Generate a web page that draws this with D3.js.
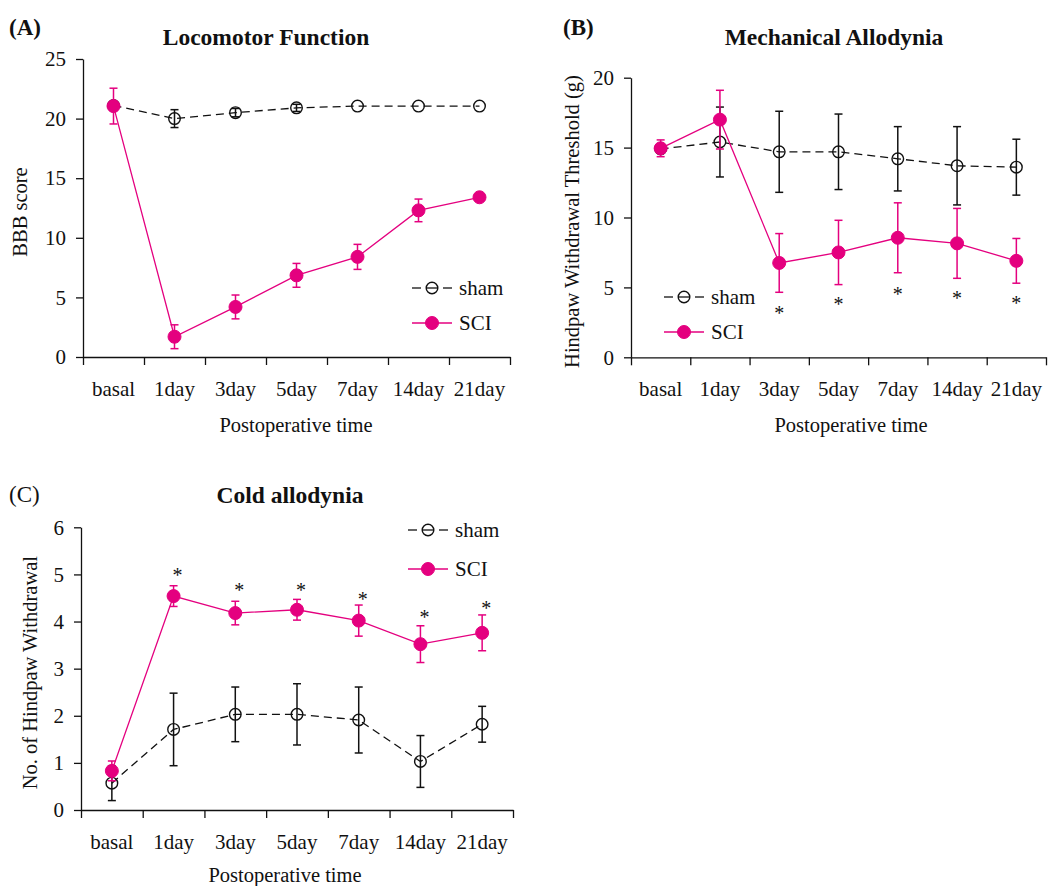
<!DOCTYPE html>
<html>
<head>
<meta charset="utf-8">
<script src="https://cdn.jsdelivr.net/npm/d3@7"></script>
<style>
body { margin: 0; background: #fff; }
text { font-family: "Liberation Serif", "Times New Roman", serif; fill: #111; }
</style>
</head>
<body>
<script>
// shared categories
const timepoints = ["basal", "1day", "3day", "5day", "7day", "14day", "21day"];

// (A) Locomotor Function - BBB score
const bbbSham = [21.1, 20.0, 20.5, 20.9, 21.05, 21.05, 21.05];
const bbbShamErr = [0, 0.75, 0.35, 0.3, 0, 0, 0];
const bbbSci = [21.05, 1.7, 4.2, 6.85, 8.4, 12.3, 13.4];
const bbbSciErr = [1.5, 1.0, 1.0, 1.0, 1.05, 0.95, 0.15];
const bbbStars = [null, null, null, null, null, null, null];

// (B) Mechanical Allodynia - withdrawal threshold (g)
const mechSham = [14.9, 15.4, 14.7, 14.7, 14.2, 13.7, 13.6];
const mechShamErr = [0.3, 2.5, 2.9, 2.7, 2.3, 2.8, 2.0];
const mechSci = [14.95, 17.0, 6.75, 7.5, 8.55, 8.15, 6.9];
const mechSciErr = [0.6, 2.1, 2.1, 2.3, 2.5, 2.5, 1.6];
const mechStars = [null, null, 3.4, 4.0, 4.75, 4.46, 4.1];

// (C) Cold allodynia - no. of hindpaw withdrawal
const coldSham = [0.57, 1.71, 2.03, 2.03, 1.91, 1.03, 1.82];
const coldShamErr = [0.37, 0.77, 0.58, 0.65, 0.7, 0.55, 0.38];
const coldSci = [0.83, 4.54, 4.18, 4.25, 4.02, 3.52, 3.76];
const coldSciErr = [0.21, 0.22, 0.25, 0.22, 0.33, 0.39, 0.38];
const coldStars = [null, 5.06, 4.74, 4.74, 4.54, 4.16, 4.35];

const pink = "#e4007f";
const black = "#111";

const svg = d3.select("body").append("svg")
    .attr("width", 1049)
    .attr("height", 886)
    .style("background", "#fff");

function drawPanel(p)
{
    const g = svg.append("g");
    const x = d3.scaleBand().domain(timepoints).range([p.left, p.right]);
    const xb = d3.scaleLinear().domain([0, timepoints.length]).range([p.left, p.right]);
    const y = d3.scaleLinear().domain([0, p.yMax]).range([p.bottom, p.top]);
    const cx = i => x(timepoints[i]) + x.bandwidth() / 2;

    // x axis: ticks at category boundaries
    g.append("g")
        .attr("transform", `translate(0,${p.bottom})`)
        .call(d3.axisBottom(xb).tickValues(d3.range(timepoints.length + 1)).tickSize(8).tickSizeOuter(0).tickFormat(""))
        .call(a => a.selectAll("path,line").attr("stroke", black).attr("stroke-width", 1.3));
    // category labels
    g.append("g")
        .attr("transform", `translate(0,${p.bottom})`)
        .call(d3.axisBottom(x).tickSize(0).tickPadding(24))
        .call(a => a.select(".domain").remove())
        .call(a => a.selectAll("text").attr("font-size", 21).attr("fill", black))
        .attr("font-family", null);

    // y axis
    g.append("g")
        .attr("transform", `translate(${p.left},0)`)
        .call(d3.axisLeft(y).ticks(p.yTicks).tickSize(7).tickPadding(10).tickSizeOuter(0))
        .call(a => a.selectAll("path,line").attr("stroke", black).attr("stroke-width", 1.3))
        .call(a => a.selectAll("text").attr("font-size", 21).attr("fill", black))
        .attr("font-family", null);

    // labels
    g.append("text")
        .attr("x", p.xLabelX).attr("y", p.xLabelY)
        .attr("text-anchor", "middle").attr("font-size", 20.5)
        .text("Postoperative time");
    g.append("text")
        .attr("transform", `translate(${p.yLabelX},${(p.top + p.bottom) / 2 + 4}) rotate(-90)`)
        .attr("text-anchor", "middle").attr("font-size", 20.5)
        .text(p.yLabel);
    g.append("text")
        .attr("x", p.titleX).attr("y", p.titleY)
        .attr("text-anchor", "middle").attr("font-size", 23.5).attr("font-weight", "bold")
        .text(p.title);
    g.append("text")
        .attr("x", p.letterX).attr("y", p.letterY)
        .attr("font-size", 23).attr("font-weight", p.letterBold ? "bold" : "normal")
        .text(p.letter);

    const line = d3.line().x((d, i) => cx(i)).y(d => y(d));

    function series(vals, errs, color, dashed, filled)
    {
        g.append("path")
            .attr("d", line(vals))
            .attr("fill", "none")
            .attr("stroke", color)
            .attr("stroke-width", 1.3)
            .attr("stroke-dasharray", dashed ? "8,5" : null);
        vals.forEach((v, i) => {
            const e = errs[i];
            if (e > 0)
            {
                const eg = g.append("g").attr("stroke", color).attr("stroke-width", 1.5);
                eg.append("line").attr("x1", cx(i)).attr("x2", cx(i)).attr("y1", y(v - e)).attr("y2", y(v + e));
                eg.append("line").attr("x1", cx(i) - 4).attr("x2", cx(i) + 4).attr("y1", y(v - e)).attr("y2", y(v - e));
                eg.append("line").attr("x1", cx(i) - 4).attr("x2", cx(i) + 4).attr("y1", y(v + e)).attr("y2", y(v + e));
            }
        });
        g.selectAll(null).data(vals).join("circle")
            .attr("cx", (d, i) => cx(i))
            .attr("cy", d => y(d))
            .attr("r", filled ? 6.5 : 5.8)
            .attr("fill", filled ? color : "none")
            .attr("stroke", color)
            .attr("stroke-width", filled ? 1 : 1.4);
    }

    series(p.sham, p.shamErr, black, true, false);
    series(p.sci, p.sciErr, pink, false, true);

    // significance marks
    p.stars.forEach((s, i) => {
        if (s == null) return;
        g.append("text")
            .attr("x", cx(i) + p.starShift).attr("y", y(s) + 10)
            .attr("text-anchor", "middle").attr("font-size", 20)
            .text("*");
    });

    // legend
    const lg = g.append("g");
    const x1 = p.legX, x2 = p.legX + 40, mx = p.legX + 20;
    [[0, "sham"], [1, "SCI"]].forEach(([k, name]) => {
        const ly = p.legY + k * p.legGap;
        if (k == 0)
        {
            [[x1, x1 + 9], [mx - 6, mx + 6], [x2 - 9, x2]].forEach(s =>
                lg.append("line").attr("x1", s[0]).attr("x2", s[1]).attr("y1", ly).attr("y2", ly)
                    .attr("stroke", black).attr("stroke-width", 1.3));
            lg.append("circle").attr("cx", mx).attr("cy", ly).attr("r", 5.8)
                .attr("fill", "none").attr("stroke", black).attr("stroke-width", 1.4);
        }
        else
        {
            lg.append("line").attr("x1", x1).attr("x2", x2).attr("y1", ly).attr("y2", ly)
                .attr("stroke", pink).attr("stroke-width", 1.3);
            lg.append("circle").attr("cx", mx).attr("cy", ly).attr("r", 6.5)
                .attr("fill", pink).attr("stroke", pink);
        }
        lg.append("text").attr("x", x2 + 7).attr("y", ly + 7).attr("font-size", 21).text(name);
    });
}

drawPanel({
    left: 83, right: 510, top: 59, bottom: 357, yMax: 25, yTicks: 5,
    sham: bbbSham, shamErr: bbbShamErr, sci: bbbSci, sciErr: bbbSciErr, stars: bbbStars, starShift: 0,
    title: "Locomotor Function", titleX: 266, titleY: 45,
    letter: "(A)", letterX: 9, letterY: 35, letterBold: true,
    yLabel: "BBB score", yLabelX: 27, xLabelX: 296, xLabelY: 432,
    legX: 412, legY: 288, legGap: 35
});

drawPanel({
    left: 631, right: 1046, top: 77.7, bottom: 357.3, yMax: 20, yTicks: 4,
    sham: mechSham, shamErr: mechShamErr, sci: mechSci, sciErr: mechSciErr, stars: mechStars, starShift: 0,
    title: "Mechanical Allodynia", titleX: 834, titleY: 45,
    letter: "(B)", letterX: 563, letterY: 35, letterBold: true,
    yLabel: "Hindpaw Withdrawal Threshold (g)", yLabelX: 579, xLabelX: 851, xLabelY: 432,
    legX: 664, legY: 297, legGap: 35
});

drawPanel({
    left: 81, right: 513, top: 527.3, bottom: 810, yMax: 6, yTicks: 6,
    sham: coldSham, shamErr: coldShamErr, sci: coldSci, sciErr: coldSciErr, stars: coldStars, starShift: 4,
    title: "Cold allodynia", titleX: 290, titleY: 503,
    letter: "(C)", letterX: 9, letterY: 502, letterBold: false,
    yLabel: "No. of Hindpaw Withdrawal", yLabelX: 37, xLabelX: 285, xLabelY: 882,
    legX: 408, legY: 530, legGap: 39
});
</script>
</body>
</html>
